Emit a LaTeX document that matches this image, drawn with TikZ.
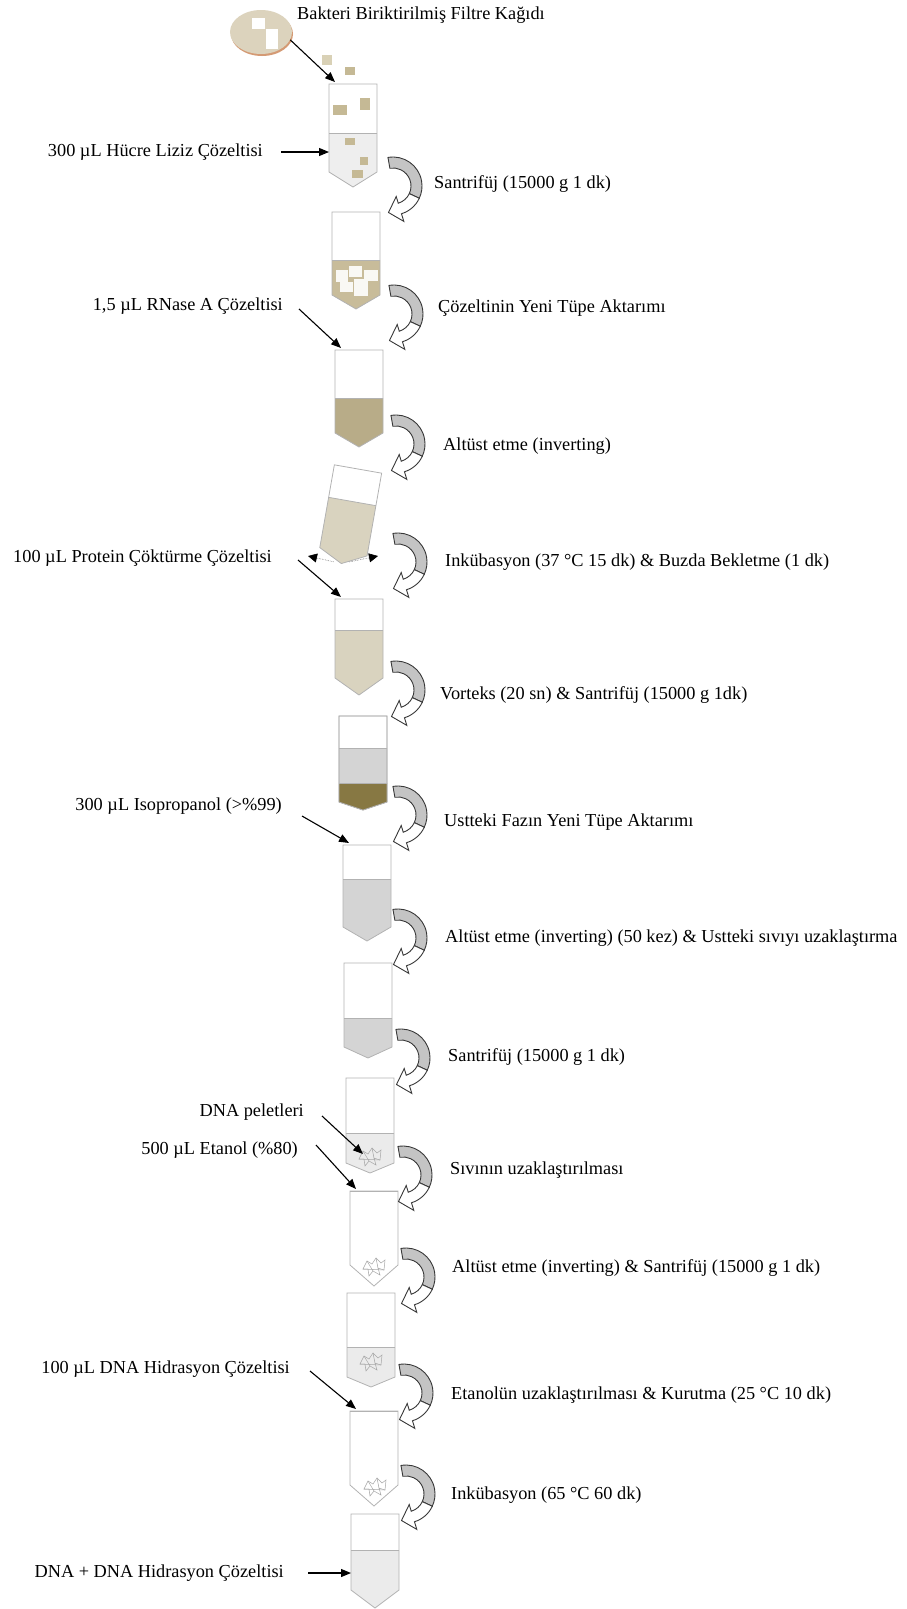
\documentclass[tikz,border=0pt]{standalone}
\usepackage{fontspec}
\setmainfont{Liberation Serif}
\usetikzlibrary{arrows.meta,shapes.geometric}

\definecolor{tubeedge}{HTML}{B2B2B2}
\definecolor{lysis}{HTML}{EEEEEE}
\definecolor{chip}{HTML}{C5B995}
\definecolor{chiplight}{HTML}{D9D1B6}
\definecolor{paperface}{HTML}{DCD3BD}
\definecolor{paperrim}{HTML}{D49A74}
\definecolor{mixtan}{HTML}{C8BC9A}
\definecolor{lysate}{HTML}{B8AC88}
\definecolor{palefluid}{HTML}{D9D3BF}
\definecolor{phase}{HTML}{D4D4D4}
\definecolor{debris}{HTML}{877843}
\definecolor{wash}{HTML}{EBEBEB}
\definecolor{turngray}{HTML}{C4C4C4}
\definecolor{turnedge}{HTML}{383838}

\begin{document}
\begin{tikzpicture}[x=1pt,y=-1pt,
  lbl/.style={inner sep=2pt,font=\fontsize{18.3}{21}\selectfont},
  feed/.style={-{Triangle[length=10pt,width=8pt]},line width=1.1pt},
  shake/.style={-{Triangle[length=9pt,width=9pt,color=black]},densely dotted,line width=0.6pt,draw=black!55,shorten <=8pt},
  tubeline/.style={draw=tubeedge,line width=0.8pt},
  pelletline/.style={draw=black!35,line width=0.5pt},
  pics/tube/.style n args={4}{code={
    \fill[#1] (-24,#2) -- (24,#2) -- (24,#3) -- (0,#4) -- (-24,#3) -- cycle;
    \draw[tubeline] (-24,0) -- (24,0) -- (24,#3) -- (0,#4) -- (-24,#3) -- cycle;
    \draw[tubeline] (-24,#2) -- (24,#2);
    \coordinate (-nw) at (-18,-2);
    \coordinate (-w) at (-24,50);
    \coordinate (-tip) at (0,#4);
  }},
  pics/turn/.style={code={
    \filldraw[fill=turngray,draw=turnedge,line width=0.9pt] (-100:29) arc (-100:25:29) -- (25:18) arc (25:-100:18) -- cycle;
    \filldraw[fill=white,draw=turnedge,line width=0.9pt] (25:29) arc (25:73:29) -- (73:37) -- (-4.5,26.5) -- (73:11) -- (73:18) arc (73:25:18) -- cycle;
  }},
  pics/pellet/.style={code={
    \draw[pelletline] (-11,2) -- (-7,-6) -- (-2,-3) -- (2,-9) -- (7,-4) -- (11,-7) -- (10,3) -- (4,1) -- (6,8) -- (-1,4) -- (-5,9) -- (-6,2) -- cycle;
    \draw[pelletline] (-7,-6) -- (-1,4) (2,-9) -- (4,1) (-11,2) -- (10,3);
    \coordinate (-c) at (-7,-3);
  }}]
\useasboundingbox (0,0) rectangle (906,1609);

\fill[paperrim] (262,34) ellipse [x radius=31,y radius=22];
\node[ellipse,fill=paperface,minimum width=62pt,minimum height=44pt,inner sep=0pt] (paper) at (261,32) {};
\fill[white] (252,18) rectangle (265,29);
\fill[white] (266,29) rectangle (278,49);
\node[lbl,anchor=west] (filter) at (295,15) {Bakteri Biriktirilmiş Filtre Kağıdı};

\pic (t1) at (353,84) {tube={lysis}{49}{88}{103}};
\pic (t2) at (356,212) {tube={mixtan}{48}{83}{97}};
\pic (t3) at (359,350) {tube={lysate}{48}{83}{97}};
\pic[rotate=-10] (t4) at (358,469) {tube={palefluid}{33}{84}{96}};
\pic (t5) at (359,599) {tube={palefluid}{31}{79}{96}};
\pic (t6) at (363,716) {tube={phase}{32}{86}{94}};
\pic (t6b) at (363,716) {tube={debris}{67}{86}{94}};
\pic (t7) at (367,845) {tube={phase}{34}{82}{96}};
\pic (t8) at (368,963) {tube={phase}{55}{84}{95}};
\pic (t9) at (370,1078) {tube={wash}{55}{85}{95}};
\pic (t10) at (374,1191) {tube={white}{0}{74}{95}};
\pic (t11) at (371,1293) {tube={wash}{54}{84}{94}};
\pic (t12) at (374,1411) {tube={white}{0}{74}{95}};
\pic (t13) at (375,1514) {tube={wash}{36}{76}{94}};

\fill[chiplight] (322,55) rectangle (332,65);
\fill[chip] (345,67) rectangle (355,75);
\fill[chip] (333,105) rectangle (347,115);
\fill[chip] (360,98) rectangle (370,110);
\fill[chip] (345,138) rectangle (355,145);
\fill[chip] (360,157) rectangle (368,165);
\fill[chip] (352,170) rectangle (363,178);

\fill[white!90!chip] (336,270) rectangle (348,282);
\fill[white!90!chip] (349,266) rectangle (362,277);
\fill[white!90!chip] (364,270) rectangle (378,281);
\fill[white!90!chip] (340,282) rectangle (353,292);
\fill[white!90!chip] (354,279) rectangle (368,296);

\pic (p9) at (370,1157) {pellet};
\pic (p10) at (374,1267) {pellet};
\pic (p11) at (371,1362) {pellet};
\pic (p12) at (375,1487) {pellet};

\pic (a1) at (393,186) {turn};
\pic (a2) at (394,314) {turn};
\pic (a3) at (396,444) {turn};
\pic (a4) at (398,562) {turn};
\pic (a5) at (396,690) {turn};
\pic (a6) at (398,815) {turn};
\pic (a7) at (398,938) {turn};
\pic (a8) at (401,1058) {turn};
\pic (a9) at (403,1175) {turn};
\pic (a10) at (406,1277) {turn};
\pic (a11) at (404,1393) {turn};
\pic (a12) at (406,1494) {turn};

\node[lbl,anchor=west] (s1) at (432,184) {Santrifüj (15000 g 1 dk)};
\node[lbl,anchor=west] (s2) at (436,308) {Çözeltinin Yeni Tüpe Aktarımı};
\node[lbl,anchor=west] (s3) at (441,446) {Altüst etme (inverting)};
\node[lbl,anchor=west] (s4) at (443,562) {Inkübasyon (37 °C 15 dk) \& Buzda Bekletme (1 dk)};
\node[lbl,anchor=west] (s5) at (438,695) {Vorteks (20 sn) \& Santrifüj (15000 g 1dk)};
\node[lbl,anchor=west] (s6) at (442,822) {Ustteki Fazın Yeni Tüpe Aktarımı};
\node[lbl,anchor=west] (s7) at (443,938) {Altüst etme (inverting) (50 kez) \& Ustteki sıvıyı uzaklaştırma};
\node[lbl,anchor=west] (s8) at (446,1057) {Santrifüj (15000 g 1 dk)};
\node[lbl,anchor=west] (s9) at (448,1170) {Sıvının uzaklaştırılması};
\node[lbl,anchor=west] (s10) at (450,1268) {Altüst etme (inverting) \& Santrifüj (15000 g 1 dk)};
\node[lbl,anchor=west] (s11) at (449,1395) {Etanolün uzaklaştırılması \& Kurutma (25 °C 10 dk)};
\node[lbl,anchor=west] (s12) at (449,1495) {Inkübasyon (65 °C 60 dk)};

\node[lbl,anchor=east] (lysisbuf) at (265,152) {300 µL Hücre Liziz Çözeltisi};
\node[lbl,anchor=east] (rnase) at (285,306) {1,5 µL RNase A Çözeltisi};
\node[lbl,anchor=east] (protein) at (274,558) {100 µL Protein Çöktürme Çözeltisi};
\node[lbl,anchor=east] (isoprop) at (284,806) {300 µL Isopropanol (>\%99)};
\node[lbl,anchor=east] (pellets) at (306,1112) {DNA peletleri};
\node[lbl,anchor=east] (ethanol) at (300,1150) {500 µL Etanol (\%80)};
\node[lbl,anchor=east] (hydra) at (292,1369) {100 µL DNA Hidrasyon Çözeltisi};
\node[lbl,anchor=east] (final) at (286,1573) {DNA + DNA Hidrasyon Çözeltisi};

\coordinate (shakeL) at (308,556);
\coordinate (shakeR) at (378,556);
\draw[shake] (t4-tip) -- (shakeL);
\draw[shake] (t4-tip) -- (shakeR);

\draw[feed] (paper.-15) -- (t1-nw);
\draw[feed] ([xshift=16pt]lysisbuf.east) -- (lysisbuf -| t1-w);
\draw[feed] ([xshift=14pt,yshift=-3pt]rnase.east) -- (t3-nw);
\draw[feed] ([xshift=24pt,yshift=-2pt]protein.east) -- (t5-nw);
\draw[feed] ([xshift=18pt,yshift=-10pt]isoprop.east) -- (t7-nw);
\draw[feed] ([xshift=16pt,yshift=-4pt]pellets.east) -- (p9-c);
\draw[feed] ([xshift=16pt,yshift=5pt]ethanol.east) -- (t10-nw);
\draw[feed] ([xshift=18pt,yshift=-2pt]hydra.east) -- (t12-nw);
\draw[feed] ([xshift=22pt]final.east) -- (final.east -| t13-w);
\end{tikzpicture}
\end{document}
